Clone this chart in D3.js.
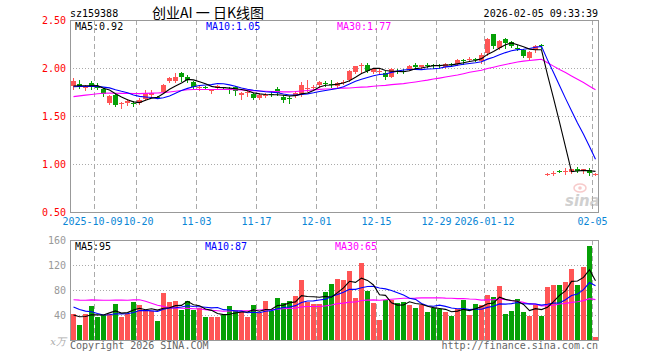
<!DOCTYPE html>
<html><head><meta charset="utf-8">
<script src="https://cdn.jsdelivr.net/npm/d3@7"></script>
<style>body{margin:0;background:#fff}svg{display:block}</style>
</head><body>
<svg id="c" width="660" height="360"></svg>
<script>
const code = "sz159388";
const title = "创业AI 一 日K线图";
const stamp = "2026-02-05 09:33:39";
const dates = ["2025-09-25","2025-09-26","2025-09-29","2025-09-30","2025-10-09","2025-10-10","2025-10-13","2025-10-14","2025-10-15","2025-10-16","2025-10-17","2025-10-20","2025-10-21","2025-10-22","2025-10-23","2025-10-24","2025-10-27","2025-10-28","2025-10-29","2025-10-30","2025-10-31","2025-11-03","2025-11-04","2025-11-05","2025-11-06","2025-11-07","2025-11-10","2025-11-11","2025-11-12","2025-11-13","2025-11-14","2025-11-17","2025-11-18","2025-11-19","2025-11-20","2025-11-21","2025-11-24","2025-11-25","2025-11-26","2025-11-27","2025-11-28","2025-12-01","2025-12-02","2025-12-03","2025-12-04","2025-12-05","2025-12-08","2025-12-09","2025-12-10","2025-12-11","2025-12-12","2025-12-15","2025-12-16","2025-12-17","2025-12-18","2025-12-19","2025-12-22","2025-12-23","2025-12-24","2025-12-25","2025-12-26","2025-12-29","2025-12-30","2025-12-31","2026-01-05","2026-01-06","2026-01-07","2026-01-08","2026-01-09","2026-01-12","2026-01-13","2026-01-14","2026-01-15","2026-01-16","2026-01-19","2026-01-20","2026-01-21","2026-01-22","2026-01-23","2026-01-26","2026-01-27","2026-01-28","2026-01-29","2026-01-30","2026-02-02","2026-02-03","2026-02-04","2026-02-05"];
const open = [1.812,1.836,1.788,1.840,1.807,1.778,1.633,1.716,1.630,1.633,
1.640,1.640,1.681,1.719,1.698,1.747,1.860,1.867,1.943,1.902,
1.853,1.795,1.800,1.772,1.788,1.800,1.781,1.798,1.722,1.740,
1.729,1.688,1.720,1.731,1.778,1.702,1.683,1.709,1.729,1.789,
1.796,1.819,1.842,1.835,1.812,1.855,1.874,1.957,2.030,2.033,
1.957,1.970,1.950,1.909,1.972,1.973,1.984,2.033,2.007,2.036,
2.030,2.030,2.014,2.043,2.041,2.085,2.095,2.091,2.076,2.159,
2.352,2.207,2.304,2.269,2.209,2.186,2.104,2.186,2.240,0.894,
0.900,0.928,0.925,0.912,0.947,0.926,0.940,0.892];
const high = [1.891,1.870,1.819,1.860,1.840,1.791,1.722,1.736,1.643,1.674,
1.660,1.684,1.771,1.771,1.709,1.833,1.902,1.943,1.957,1.922,
1.867,1.819,1.812,1.785,1.822,1.805,1.798,1.812,1.750,1.770,
1.743,1.736,1.743,1.750,1.798,1.716,1.709,1.764,1.853,1.874,
1.826,1.867,1.867,1.874,1.853,1.874,1.978,2.026,2.047,2.047,
1.998,1.985,1.964,1.998,1.991,1.985,2.033,2.047,2.035,2.055,
2.041,2.038,2.055,2.055,2.090,2.097,2.117,2.104,2.152,2.317,
2.359,2.290,2.317,2.283,2.235,2.200,2.172,2.235,2.247,0.902,
0.926,0.940,0.957,0.950,0.971,0.950,0.954,0.905];
const low = [1.781,1.791,1.774,1.781,1.781,1.712,1.626,1.605,1.585,1.612,
1.602,1.626,1.667,1.702,1.685,1.736,1.850,1.850,1.864,1.857,
1.791,1.771,1.778,1.736,1.778,1.781,1.736,1.722,1.681,1.709,
1.674,1.674,1.702,1.709,1.722,1.647,1.633,1.695,1.709,1.764,
1.771,1.798,1.815,1.805,1.805,1.833,1.860,1.943,1.953,1.957,
1.943,1.950,1.881,1.902,1.943,1.943,1.978,1.991,2.000,2.007,
2.000,2.008,2.000,2.021,2.035,2.041,2.069,2.069,2.055,2.131,
2.207,2.193,2.207,2.214,2.186,2.110,2.090,2.166,2.212,0.890,
0.882,0.912,0.898,0.905,0.912,0.905,0.890,0.888];
const close = [1.864,1.805,1.805,1.805,1.803,1.729,1.709,1.616,1.635,1.653,
1.622,1.671,1.743,1.743,1.693,1.822,1.895,1.905,1.909,1.874,
1.798,1.800,1.795,1.776,1.812,1.795,1.776,1.757,1.740,1.745,
1.688,1.722,1.723,1.727,1.743,1.667,1.679,1.743,1.819,1.792,
1.800,1.853,1.838,1.831,1.840,1.857,1.967,2.019,2.033,1.971,
1.991,1.972,1.902,1.991,1.969,1.969,2.026,2.012,2.028,2.032,
2.026,2.026,2.041,2.039,2.083,2.081,2.098,2.088,2.138,2.304,
2.228,2.283,2.262,2.228,2.205,2.124,2.166,2.228,2.226,0.897,
0.910,0.925,0.928,0.945,0.925,0.945,0.903,0.900];
const volume = [42,24.5,42,55,37.5,40.5,42,57.5,37.5,41.5,
61,56,46,46,30.5,75,60.5,63,48,62.5,
48.5,52,37,37,37,40,54.5,48,45,37,
56,44,62.5,46,67,59.5,62.5,70,95.5,61,
57.5,58,77,89,97,96.3,110.5,67.9,123,79,
60,31.6,63.7,63.7,60,61.6,56.8,50.5,56.8,44.2,
50.5,49.5,44.2,37.9,49,64.7,39.5,58.4,55.3,72.6,
69.5,86.8,41,45.8,66.3,44.2,37.9,56.8,37.9,85.3,
88.4,88.4,93.2,113.7,88.4,116.8,150,4.7];
// closes / volumes of the sessions before the window (estimated from where the MA lines start)
const priorCloses = [1.57,1.58,1.59,1.58,1.60,1.64,1.66,1.67,1.65,1.68,1.69,1.67,1.66,1.68,1.70,1.69,1.67,1.66,1.68,1.70,1.78,1.80,1.79,1.81,1.80,1.79,1.81,1.80,1.80];
const priorVolumes = [44,46,42,48,45,43,47,44,46,45,45,125,135,128,132,130,66,64,67,65,64,68,66,65,65,38,41,40,39];
const tickDates = ["2025-10-09","2025-10-20","2025-11-03","2025-11-17","2025-12-01","2025-12-15","2025-12-29","2026-01-12","2026-02-05"];
const tickLabels = ["2025-10-09","10-20","11-03","11-17","12-01","12-15","12-29","2026-01-12","02-05"];
const priceTicks = [0.5,1.0,1.5,2.0,2.5];
const volTicks = [40,80,120,160];

const RED = "#ff5555", GREEN = "#06a006";
const MONO = "'DejaVu Sans Mono', 'Liberation Mono', monospace";
const svg = d3.select("#c");
const L = 70, R = 598, pTop = 20, pBot = 212, vTop = 240, vBot = 340;

const x = d3.scaleBand().domain(dates).range([L, R]);
const xi = d3.scaleLinear().domain([0, dates.length]).range([L, R]);
const y = d3.scaleLinear().domain([0.5, 2.5]).range([pBot, pTop]);
const yv = d3.scaleLinear().domain([0, 160]).range([vBot, vTop]);
const cx = d => x(d) + 3.5;

function ma(series, prior, n) {
  const all = prior.concat(series);
  return series.map((_, i) => d3.mean(all.slice(prior.length + i - n + 1, prior.length + i + 1)));
}
const ma5 = ma(close, priorCloses, 5), ma10 = ma(close, priorCloses, 10), ma30 = ma(close, priorCloses, 30);
const vma5 = ma(volume, priorVolumes, 5), vma10 = ma(volume, priorVolumes, 10), vma30 = ma(volume, priorVolumes, 30);

// header
svg.append("text").attr("x", 70).attr("y", 17).attr("font-family", MONO).attr("font-size", 10).text(code);
svg.append("text").attr("x", 152).attr("y", 18).attr("font-family", "'Noto Sans CJK SC', sans-serif")
  .attr("font-size", 14).attr("xml:space", "preserve").text(title);
svg.append("text").attr("x", 598).attr("y", 17).attr("text-anchor", "end").attr("font-family", MONO).attr("font-size", 10).text(stamp);

// grids
const grid = svg.append("g").attr("shape-rendering", "crispEdges");
[1.0, 1.5, 2.0].forEach(v => grid.append("line").attr("x1", L).attr("x2", R)
  .attr("y1", Math.round(y(v)) + 0.5).attr("y2", Math.round(y(v)) + 0.5)
  .attr("stroke", "#aaa").attr("stroke-dasharray", "1,2"));
[40, 80, 120].forEach(v => grid.append("line").attr("x1", L).attr("x2", R)
  .attr("y1", Math.round(yv(v)) + 0.5).attr("y2", Math.round(yv(v)) + 0.5)
  .attr("stroke", "#aaa").attr("stroke-dasharray", "1,2"));
tickDates.forEach(d => {
  const gx = Math.round(x(d)) + 0.5;
  [[pTop, pBot], [vTop, vBot]].forEach(([a, b]) => grid.append("line")
    .attr("x1", gx).attr("x2", gx).attr("y1", a).attr("y2", b)
    .attr("stroke", "#aaa").attr("stroke-dasharray", "5,3"));
});

// sina watermark
const wm = svg.append("g").attr("opacity", 0.55);
wm.append("ellipse").attr("cx", 580).attr("cy", 188).attr("rx", 6).attr("ry", 4).attr("fill", "none").attr("stroke", "#f2a0a0").attr("stroke-width", 1.5);
wm.append("circle").attr("cx", 580).attr("cy", 188).attr("r", 1.8).attr("fill", "#f2a0a0");
wm.append("text").attr("x", 565).attr("y", 206).attr("font-family", "'DejaVu Sans', sans-serif")
  .attr("font-style", "italic").attr("font-weight", "bold").attr("font-size", 15).attr("fill", "#aaa").text("sina");

// candles
const up = i => close[i] >= open[i];
const cg = svg.append("g").attr("shape-rendering", "crispEdges");
dates.forEach((d, i) => {
  const col = up(i) ? RED : GREEN;
  cg.append("line").attr("x1", cx(d)).attr("x2", cx(d))
    .attr("y1", Math.round(y(high[i]))).attr("y2", Math.round(y(low[i])) + 1).attr("stroke", col);
  const t = Math.round(y(Math.max(open[i], close[i])));
  const b = Math.round(y(Math.min(open[i], close[i])));
  cg.append("rect").attr("x", x(d) + 1).attr("width", 5).attr("y", t).attr("height", Math.max(1, b - t)).attr("fill", col);
});
// volume bars
const vg = svg.append("g").attr("shape-rendering", "crispEdges");
dates.forEach((d, i) => {
  const t = Math.round(yv(volume[i]));
  vg.append("rect").attr("x", x(d) + 1).attr("width", 5).attr("y", t).attr("height", vBot - t)
    .attr("fill", up(i) ? RED : GREEN);
});

// MA lines
const lp = d3.line().x((v, i) => cx(dates[i])).y(v => y(v));
const lv = d3.line().x((v, i) => cx(dates[i])).y(v => yv(v));
[[ma30, "#ff00ff"], [ma10, "#0000ff"], [ma5, "#000"]].forEach(([s, c]) =>
  svg.append("path").attr("d", lp(s)).attr("fill", "none").attr("stroke", c).attr("stroke-width", 1.1));
[[vma30, "#ff00ff"], [vma10, "#0000ff"], [vma5, "#000"]].forEach(([s, c]) =>
  svg.append("path").attr("d", lv(s)).attr("fill", "none").attr("stroke", c).attr("stroke-width", 1.1));

// frames
const fr = svg.append("g").attr("shape-rendering", "crispEdges").attr("fill", "none").attr("stroke", "#999");
fr.append("rect").attr("x", L + 0.5).attr("y", pTop + 0.5).attr("width", R - L).attr("height", pBot - pTop);
fr.append("rect").attr("x", L + 0.5).attr("y", vTop + 0.5).attr("width", R - L).attr("height", vBot - vTop);

// axes
const ay = svg.append("g").attr("transform", `translate(${L},0)`)
  .call(d3.axisLeft(y).tickValues(priceTicks).tickFormat(d3.format(".2f")).tickSize(0).tickPadding(4));
ay.select(".domain").remove();
ay.selectAll("text").attr("fill", "#ff0000").attr("font-family", MONO).attr("font-size", 10);

const av = svg.append("g").attr("transform", `translate(${L},0)`)
  .call(d3.axisLeft(yv).tickValues(volTicks).tickFormat(d3.format("d")).tickSize(0).tickPadding(4));
av.select(".domain").remove();
av.selectAll("text").attr("fill", "#999").attr("font-family", MONO).attr("font-size", 10);
svg.append("text").attr("x", 66).attr("y", 345).attr("text-anchor", "end").attr("fill", "#aaa")
  .attr("font-family", "'DejaVu Serif', serif").attr("font-style", "italic").attr("font-size", 10).text("x万");

const tickIdx = tickDates.map(d => dates.indexOf(d));
const ax = svg.append("g").attr("transform", `translate(0,${pBot})`)
  .call(d3.axisBottom(xi).tickValues(tickIdx).tickFormat((d, k) => tickLabels[k]).tickSize(0).tickPadding(6));
ax.select(".domain").remove();
ax.selectAll("text").attr("fill", "#0a86d6").attr("font-family", MONO).attr("font-size", 10)
  .attr("dx", (d, k) => k === 0 ? -2 : (k === 1 ? 2 : 0));

// legends
const f2 = d3.format(".2f");
const last = close.length - 1;
[["MA5:" + f2(ma5[last]), "#000", 75], ["MA10:" + f2(ma10[last]), "#0000ff", 206], ["MA30:" + f2(ma30[last]), "#ff00ff", 337]]
  .forEach(([t, c, px]) => svg.append("text").attr("x", px).attr("y", 30).attr("fill", c).attr("font-family", MONO).attr("font-size", 10).text(t));
[["MA5:" + Math.round(vma5[last]), "#000", 75], ["MA10:" + Math.round(vma10[last]), "#0000ff", 205], ["MA30:" + Math.round(vma30[last]), "#ff00ff", 335]]
  .forEach(([t, c, px]) => svg.append("text").attr("x", px).attr("y", 250).attr("fill", c).attr("font-family", MONO).attr("font-size", 10).text(t));

// footer
svg.append("text").attr("x", 70).attr("y", 349).attr("fill", "#666").attr("font-family", MONO).attr("font-size", 10).text("Copyright 2026 SINA.COM");
svg.append("text").attr("x", 598).attr("y", 349).attr("text-anchor", "end").attr("fill", "#666").attr("font-family", MONO).attr("font-size", 10).text("http://finance.sina.com.cn");
</script>
</body></html>
